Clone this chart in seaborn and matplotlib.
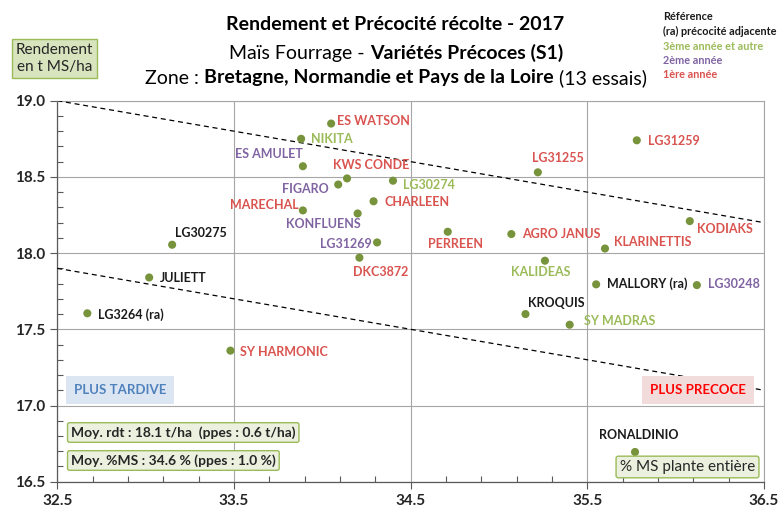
import numpy as np
import pandas as pd
import matplotlib
matplotlib.use("Agg")
import matplotlib.pyplot as plt
from matplotlib.ticker import MultipleLocator, FormatStrFormatter
import seaborn as sns

# ---- data ----
varieties = ["ES WATSON", "NIKITA", "ES AMULET", "KWS CONDE", "FIGARO", "MARECHAL",
             "KONFLUENS", "CHARLEEN", "LG30274", "LG31269", "DKC3872", "LG30275",
             "JULIETT", "LG3264 (ra)", "SY HARMONIC", "LG31259", "LG31255", "PERREEN",
             "AGRO JANUS", "KLARINETTIS", "KODIAKS", "KALIDEAS", "MALLORY (ra)",
             "LG30248", "KROQUIS", "SY MADRAS", "RONALDINIO"]
ms_pct = [34.05, 33.88, 33.89, 34.14, 34.09, 33.89, 34.20, 34.29, 34.40, 34.31, 34.21,
          33.15, 33.02, 32.67, 33.48, 35.78, 35.22, 34.71, 35.07, 35.60, 36.08, 35.26,
          35.55, 36.12, 35.15, 35.40, 35.77]
yield_t = [18.85, 18.75, 18.57, 18.49, 18.45, 18.28, 18.26, 18.34, 18.475, 18.07, 17.97,
           18.055, 17.84, 17.605, 17.36, 18.74, 18.53, 18.14, 18.125, 18.03, 18.21, 17.95,
           17.795, 17.79, 17.60, 17.53, 16.695]
# ref = témoin, 3 = 3ème année et autre, 2 = 2ème année, 1 = 1ère année
status = ["1", "3", "2", "1", "2", "1", "2", "1", "3", "2", "1", "ref", "ref", "ref", "1",
          "1", "1", "1", "1", "1", "1", "3", "ref", "2", "ref", "3", "ref"]

trend_x = [32.5, 36.5]
trend_upper = [19.0, 18.2]
trend_lower = [17.9, 17.1]

x_ticks = [32.5, 33.5, 34.5, 35.5, 36.5]

title_1 = "Rendement et Précocité récolte - 2017"
mean_rdt = "Moy. rdt : 18.1 t/ha  (ppes : 0.6 t/ha)"
mean_ms = "Moy. %MS : 34.6 % (ppes : 1.0 %)"

df = pd.DataFrame({"variete": varieties, "ms": ms_pct, "rdt": yield_t, "statut": status})

# ---- styling ----
label_colors = {"ref": "#1a1a1a", "3": "#9BBB59", "2": "#8064A2", "1": "#D9534F"}
dot_color = "#77933C"

# label placement (offset in pixels from the dot, alignment)
label_pos = {
    "ES WATSON": (6, 3, "left"), "NIKITA": (10, 0, "left"), "ES AMULET": (0, 12, "right"),
    "KWS CONDE": (-14, 13, "left"), "FIGARO": (-9, -4, "right"), "MARECHAL": (-4, 5, "right"),
    "KONFLUENS": (3, -11, "right"), "CHARLEEN": (11, -1, "left"), "LG30274": (10, -4, "left"),
    "LG31269": (-5, -2, "right"), "DKC3872": (-6, -14, "left"), "LG30275": (3, 12, "left"),
    "JULIETT": (11, -1, "left"), "LG3264 (ra)": (11, -1, "left"), "SY HARMONIC": (10, -1, "left"),
    "LG31259": (11, -1, "left"), "LG31255": (-6, 14, "left"), "PERREEN": (-20, -12, "left"),
    "AGRO JANUS": (11, 0, "left"), "KLARINETTIS": (9, 7, "left"), "KODIAKS": (7, -8, "left"),
    "KALIDEAS": (-4, -11, "center"), "MALLORY (ra)": (11, 1, "left"), "LG30248": (11, 1, "left"),
    "KROQUIS": (3, 11, "left"), "SY MADRAS": (14, 4, "left"), "RONALDINIO": (4, 17, "center"),
}

sns.set_theme(style="white")
plt.rcParams["font.family"] = ["Lato", "DejaVu Sans"]

W, H = 780, 509
fig = plt.figure(figsize=(W / 100, H / 100), dpi=100)


def fx(x):
    return x / W


def fy(y):
    return 1 - y / H


ax = fig.add_axes([fx(57.3), fy(481.7), fx(764) - fx(57.3), fy(100.7) - fy(481.7)])

sns.scatterplot(data=df, x="ms", y="rdt", color=dot_color, s=34, edgecolor="none",
                ax=ax, zorder=4)
ax.plot(trend_x, trend_upper, color="black", lw=0.9, ls=(0, (4, 3)), zorder=3)
ax.plot(trend_x, trend_lower, color="black", lw=0.9, ls=(0, (4, 3)), zorder=3)

for _, r in df.iterrows():
    dx, dy, ha = label_pos[r["variete"]]
    ax.annotate(r["variete"], (r["ms"], r["rdt"]), xytext=(dx, dy),
                textcoords="offset pixels", ha=ha, va="center", fontsize=9,
                fontweight="bold", color=label_colors[r["statut"]], zorder=5)

ax.set_xlim(32.5, 36.5)
ax.set_ylim(16.5, 19.0)
ax.set_xticks(x_ticks)
ax.xaxis.set_minor_locator(MultipleLocator(0.2, offset=0.1))
ax.yaxis.set_major_locator(MultipleLocator(0.5))
ax.yaxis.set_minor_locator(MultipleLocator(0.1))
ax.xaxis.set_major_formatter(FormatStrFormatter("%.1f"))
ax.yaxis.set_major_formatter(FormatStrFormatter("%.1f"))
ax.tick_params(which="major", direction="out", length=5, width=0.8, color="#595959",
               labelsize=11, pad=4)
ax.tick_params(which="minor", direction="in", length=4, width=0.8, color="#595959")
ax.tick_params(axis="x", which="both", bottom=True)
ax.tick_params(axis="y", which="both", left=True)
for lab in ax.get_xticklabels() + ax.get_yticklabels():
    lab.set_fontweight("bold")
ax.set_xlabel("")
ax.set_ylabel("")
ax.grid(which="major", color="#A6A6A6", lw=0.8)
ax.set_axisbelow(True)
for side in ["top", "right"]:
    ax.spines[side].set_color("#A6A6A6")
    ax.spines[side].set_linewidth(0.8)
for side in ["left", "bottom"]:
    ax.spines[side].set_color("#595959")
    ax.spines[side].set_linewidth(0.9)

# ---- titles with mixed weights ----
renderer = fig.canvas.get_renderer()


def mixed_line(parts, xc, y, size):
    texts = []
    for s, w in parts:
        texts.append(fig.text(0, fy(y), s, fontsize=size, fontweight=w, va="center",
                              ha="left", color="black"))
    gap = size * 100 / 72 * 0.25
    widths = [t.get_window_extent(renderer).width for t in texts]
    total = sum(widths) + gap * (len(parts) - 1)
    x = xc - total / 2
    for t, w in zip(texts, widths):
        t.set_x(fx(x))
        x += w + gap


mixed_line([(title_1, "bold")], 395, 25, 14)
mixed_line([("Maïs Fourrage -", "normal"), ("Variétés Précoces (S1)", "bold")], 396, 53, 14)
mixed_line([("Zone :", "normal"), ("Bretagne, Normandie et Pays de la Loire", "bold"),
            ("(13 essais)", "normal")], 396, 78, 14)

# legend of label colours
legend_lines = [("Référence", label_colors["ref"]), ("(ra) précocité adjacente", label_colors["ref"]),
                ("3ème année et autre", label_colors["3"]), ("2ème année", label_colors["2"]),
                ("1ère année", label_colors["1"])]
for i, (s, c) in enumerate(legend_lines):
    fig.text(fx(663), fy(17 + i * 14.5), s, fontsize=7.8, fontweight="bold", color=c,
             va="center", ha="left")

# boxes
fig.text(fx(54.5), fy(58.5), "Rendement\nen t MS/ha", fontsize=11, ha="center", va="center",
         linespacing=1.25,
         bbox=dict(boxstyle="square,pad=0.25", fc="#D7E4BD", ec="#9BBB59", lw=1))
fig.text(fx(120), fy(390), "PLUS TARDIVE", fontsize=9.5, fontweight="bold", color="#4F81BD",
         ha="center", va="center",
         bbox=dict(boxstyle="square,pad=0.6", fc="#DCE6F2", ec="none"))
fig.text(fx(698), fy(390), "PLUS PRECOCE", fontsize=9.5, fontweight="bold", color="#FF0000",
         ha="center", va="center",
         bbox=dict(boxstyle="square,pad=0.6", fc="#F2DCDB", ec="none"))
fig.text(fx(71), fy(432.5), mean_rdt, fontsize=10, fontweight="bold", color="#262626",
         ha="left", va="center",
         bbox=dict(boxstyle="round,pad=0.25,rounding_size=0.15", fc="#EBF1DE", ec="#9BBB59", lw=1))
fig.text(fx(71), fy(460.5), mean_ms, fontsize=10, fontweight="bold", color="#262626",
         ha="left", va="center",
         bbox=dict(boxstyle="round,pad=0.25,rounding_size=0.15", fc="#EBF1DE", ec="#9BBB59", lw=1))
fig.text(fx(687.5), fy(467), "% MS plante entière", fontsize=11, color="#262626",
         ha="center", va="center",
         bbox=dict(boxstyle="round,pad=0.25,rounding_size=0.15", fc="#EBF1DE", ec="#9BBB59", lw=1))

fig.savefig("out.png", dpi=100)
